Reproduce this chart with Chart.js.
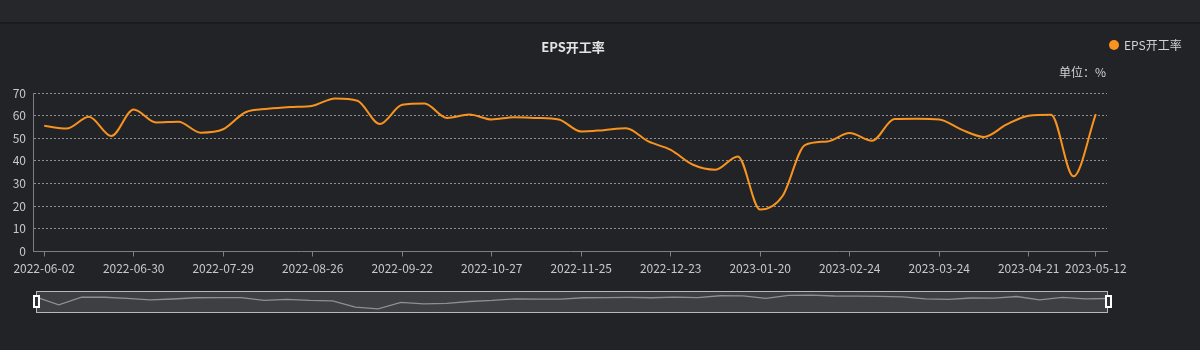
<!DOCTYPE html>
<html>
<head>
<meta charset="utf-8">
<script src="https://cdn.jsdelivr.net/npm/chart.js@4.4.0/dist/chart.umd.min.js"></script>
<style>
html,body{margin:0;padding:0;background:#222327;width:1200px;height:350px;overflow:hidden;font-family:"Noto Sans CJK SC","Noto Sans",sans-serif;}
#topband{position:absolute;left:0;top:0;width:1200px;height:22px;background:#26272b;}
#sep{position:absolute;left:0;top:22px;width:1200px;height:2px;background:#1a1b1e;}
#main{position:absolute;left:0;top:0;}
.txt{position:absolute;white-space:nowrap;color:#d2d2d2;font-size:12px;line-height:14px;}
#title{left:573px;top:39px;transform:translateX(-50%);font-weight:bold;font-size:13px;line-height:15px;color:#e4e4e4;}
#legdot{position:absolute;left:1109px;top:40px;width:10px;height:10px;border-radius:50%;background:#f7931e;}
#legtxt{left:1124px;top:38px;}
#unit{right:94px;top:65px;}
#sfill{position:absolute;left:36px;top:291px;width:1072px;height:22px;background:rgba(255,255,255,0.13);}
#preview{position:absolute;left:36px;top:291px;}
#sborder{position:absolute;left:36px;top:291px;width:1072px;height:22px;box-sizing:border-box;border:1.5px solid #b8b8b8;}
.handle{position:absolute;top:295px;width:7px;height:13px;box-sizing:border-box;border:2px solid #ffffff;background:#2e2f34;}
</style>
</head>
<body>
<div id="topband"></div>
<div id="sep"></div>
<canvas id="main" width="1200" height="350"></canvas>
<div id="title" class="txt">EPS开工率</div>
<div id="legdot"></div>
<div id="legtxt" class="txt">EPS开工率</div>
<div id="unit" class="txt">单位：%</div>
<div id="sfill"></div>
<canvas id="preview" width="1072" height="22"></canvas>
<div id="sborder"></div>
<div class="handle" style="left:33px"></div>
<div class="handle" style="left:1105px"></div>
<script>
const categories = [
  "2022-06-02","2022-06-09","2022-06-16","2022-06-23","2022-06-30","2022-07-07","2022-07-14","2022-07-21",
  "2022-07-29","2022-08-05","2022-08-12","2022-08-19","2022-08-26","2022-09-02","2022-09-09","2022-09-16",
  "2022-09-22","2022-09-29","2022-10-14","2022-10-21","2022-10-27","2022-11-03","2022-11-10","2022-11-17",
  "2022-11-25","2022-12-02","2022-12-09","2022-12-16","2022-12-23","2022-12-30","2023-01-06","2023-01-13",
  "2023-01-20","2023-02-03","2023-02-10","2023-02-17","2023-02-24","2023-03-03","2023-03-10","2023-03-17",
  "2023-03-24","2023-03-31","2023-04-07","2023-04-14","2023-04-21","2023-04-28","2023-05-05","2023-05-12"
];
const epsRate = [
  55.5, 54.3, 59.5, 51.0, 62.7, 57.0, 57.3, 52.5,
  54.0, 61.5, 63.0, 63.8, 64.4, 67.6, 66.6, 56.3,
  64.8, 65.4, 59.0, 60.5, 58.3, 59.3, 59.0, 58.3,
  53.0, 53.6, 54.4, 48.6, 44.9, 38.3, 36.1, 42.0,
  18.5, 24.5, 47.0, 48.6, 52.3, 48.9, 58.5, 58.6,
  58.3, 53.8, 50.6, 56.0, 60.0, 60.4, 33.2, 60.7
];
const shownTickLabels = [
  "2022-06-02","2022-06-30","2022-07-29","2022-08-26","2022-09-22","2022-10-27","2022-11-25",
  "2022-12-23","2023-01-20","2023-02-24","2023-03-24","2023-04-21","2023-05-12"
];
const yTickValues = [0,10,20,30,40,50,60,70];

const FONT = '"Noto Sans CJK SC","Noto Sans",sans-serif';
const AXIS = '#7c7e84';

new Chart(document.getElementById('main'), {
  type: 'line',
  data: {
    labels: categories,
    datasets: [{
      label: 'EPS开工率',
      data: epsRate,
      borderColor: '#f7931e',
      backgroundColor: '#f7931e',
      borderWidth: 2,
      pointRadius: 0,
      pointHoverRadius: 0,
      cubicInterpolationMode: 'monotone',
      fill: false
    }]
  },
  options: {
    responsive: false,
    animation: false,
    devicePixelRatio: 1,
    layout: { padding: { top: 93, right: 93, left: 0, bottom: 0 } },
    plugins: { legend: { display: false }, title: { display: false }, tooltip: { enabled: false } },
    scales: {
      x: {
        type: 'category',
        offset: true,
        grid: {
          display: true,
          drawOnChartArea: false,
          drawTicks: true,
          tickLength: 5,
          lineWidth: 1,
          color: (ctx) => {
            const lbl = categories[ctx.index];
            return shownTickLabels.includes(lbl) ? AXIS : 'rgba(0,0,0,0)';
          }
        },
        border: { display: true, color: AXIS, width: 1 },
        ticks: {
          autoSkip: false,
          maxRotation: 0,
          minRotation: 0,
          padding: 5,
          color: '#c9c9c9',
          font: { size: 12, family: FONT },
          callback: function (v) {
            const l = this.getLabelForValue(v);
            return shownTickLabels.includes(l) ? l : '';
          }
        },
        afterFit: (s) => { s.height = 98.5; }
      },
      y: {
        min: 0,
        max: 70,
        afterBuildTicks: (s) => { s.ticks = yTickValues.map(v => ({ value: v })); },
        ticks: { padding: 7, color: '#c9c9c9', font: { size: 12, family: FONT } },
        grid: {
          drawTicks: false,
          lineWidth: 1,
          color: (ctx) => (ctx.tick && ctx.tick.value === 0) ? 'rgba(0,0,0,0)' : 'rgba(215,215,215,0.6)'
        },
        border: { display: true, color: AXIS, width: 1, dash: [2, 2] },
        afterFit: (s) => { s.width = 33; }
      }
    }
  }
});

const previewData = epsRate.slice().reverse();
const previewLabels = categories.slice().reverse();
const mn = Math.min(...epsRate), mx = Math.max(...epsRate), pad = (mx - mn) * 0.3;
new Chart(document.getElementById('preview'), {
  type: 'line',
  data: {
    labels: previewLabels,
    datasets: [{
      data: previewData,
      borderColor: '#8e8f94',
      borderWidth: 1.3,
      pointRadius: 0,
      tension: 0,
      fill: false
    }]
  },
  options: {
    responsive: false,
    animation: false,
    devicePixelRatio: 1,
    layout: { padding: 0 },
    plugins: { legend: { display: false }, tooltip: { enabled: false } },
    scales: {
      x: { display: false, offset: false },
      y: { display: false, min: mn - pad, max: mx + pad }
    }
  }
});
</script>
</body>
</html>
